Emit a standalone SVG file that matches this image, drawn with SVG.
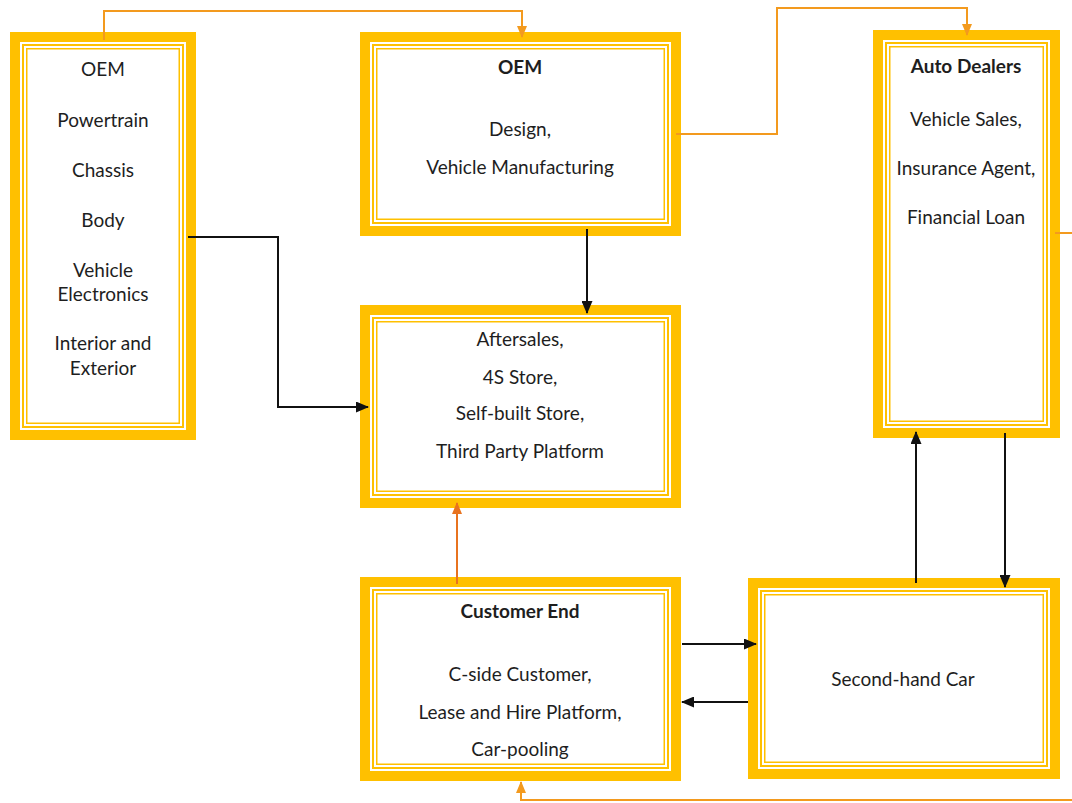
<svg xmlns="http://www.w3.org/2000/svg" width="1072" height="803" viewBox="0 0 1072 803">
<style>
.band{fill:#fff;stroke:#FFC000;stroke-width:10}
.l1{fill:none;stroke:#FFC000;stroke-width:2}
.l2{fill:none;stroke:#FFC000;stroke-width:1.5}
text{font-family:Lato,"Liberation Sans",sans-serif;font-size:19px;fill:#1e1e1e;text-anchor:middle}
.b{font-weight:bold}
.k{fill:none;stroke:#111;stroke-width:2}
.o{fill:none;stroke:#F39A1E;stroke-width:2}
.o2{fill:none;stroke:#E8731F;stroke-width:2}
</style>
<defs>
<marker id="ak" markerUnits="userSpaceOnUse" markerWidth="13" markerHeight="11" refX="12" refY="5.5" orient="auto"><path d="M0,0 L13,5.5 L0,11 z" fill="#111"/></marker>
<marker id="ao" markerUnits="userSpaceOnUse" markerWidth="12" markerHeight="10" refX="11" refY="5" orient="auto"><path d="M0,0 L12,5 L0,10 z" fill="#F39A1E"/></marker>
<marker id="ao2" markerUnits="userSpaceOnUse" markerWidth="12" markerHeight="10" refX="11" refY="5" orient="auto"><path d="M0,0 L12,5 L0,10 z" fill="#E8731F"/></marker>
</defs>
<rect width="1072" height="803" fill="#fff"/>
<g id="n1">
<rect class="band" x="15" y="37" width="176" height="398"/>
<rect class="l1" x="23" y="45" width="160" height="382"/>
<rect class="l2" x="26.75" y="48.75" width="152.5" height="374.5"/>
<text x="103" y="76">OEM</text>
<text x="103" y="127">Powertrain</text>
<text x="103" y="177">Chassis</text>
<text x="103" y="227">Body</text>
<text x="103" y="277">Vehicle</text>
<text x="103" y="301">Electronics</text>
<text x="103" y="350">Interior and</text>
<text x="103" y="375">Exterior</text>
</g>
<g id="n2">
<rect class="band" x="365" y="37" width="311" height="194"/>
<rect class="l1" x="373" y="45" width="295" height="178"/>
<rect class="l2" x="376.75" y="48.75" width="287.5" height="170.5"/>
<text class="b" x="520" y="74">OEM</text>
<text x="520" y="136">Design,</text>
<text x="520" y="174">Vehicle Manufacturing</text>
</g>
<g id="n3">
<rect class="band" x="878" y="35" width="177" height="398"/>
<rect class="l1" x="886" y="43" width="161" height="382"/>
<rect class="l2" x="889.75" y="46.75" width="153.5" height="374.5"/>
<text class="b" x="966" y="73">Auto Dealers</text>
<text x="966" y="126">Vehicle Sales,</text>
<text x="966" y="175">Insurance Agent,</text>
<text x="966" y="224">Financial Loan</text>
</g>
<g id="n4">
<rect class="band" x="365" y="310" width="311" height="193"/>
<rect class="l1" x="373" y="318" width="295" height="177"/>
<rect class="l2" x="376.75" y="321.75" width="287.5" height="169.5"/>
<text x="520" y="346">Aftersales,</text>
<text x="520" y="384">4S Store,</text>
<text x="520" y="420">Self-built Store,</text>
<text x="520" y="458">Third Party Platform</text>
</g>
<g id="n5">
<rect class="band" x="365" y="582" width="311" height="194"/>
<rect class="l1" x="373" y="590" width="295" height="178"/>
<rect class="l2" x="376.75" y="593.75" width="287.5" height="170.5"/>
<text class="b" x="520" y="618">Customer End</text>
<text x="520" y="681">C-side Customer,</text>
<text x="520" y="719">Lease and Hire Platform,</text>
<text x="520" y="756">Car-pooling</text>
</g>
<g id="n6">
<rect class="band" x="753" y="583" width="302" height="191"/>
<rect class="l1" x="761" y="591" width="286" height="175"/>
<rect class="l2" x="764.75" y="594.75" width="278.5" height="167.5"/>
<text x="903" y="686">Second-hand Car</text>
</g>
<g id="connectors">
<path class="o" d="M104,40 V11 H522 V37" marker-end="url(#ao)"/>
<path class="o" d="M676,134 H777 V8 H967 V35" marker-end="url(#ao)"/>
<path class="o" d="M1055,233 H1076 V800 H521 V782" marker-end="url(#ao)"/>
<path class="o2" d="M457,584 V503" marker-end="url(#ao2)"/>
<path class="k" d="M188,237 H278 V407 H368" marker-end="url(#ak)"/>
<path class="k" d="M587,229 V313" marker-end="url(#ak)"/>
<path class="k" d="M682,644 H756" marker-end="url(#ak)"/>
<path class="k" d="M748,702 H682" marker-end="url(#ak)"/>
<path class="k" d="M916,583 V432" marker-end="url(#ak)"/>
<path class="k" d="M1005,433 V587" marker-end="url(#ak)"/>
</g>
</svg>
